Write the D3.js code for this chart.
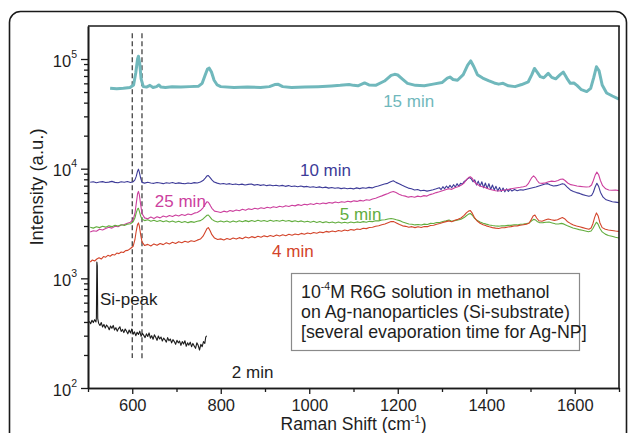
<!DOCTYPE html>
<html><head><meta charset="utf-8">
<script src="https://cdn.jsdelivr.net/npm/d3@7"></script>
<style>
body{margin:0;background:#fff}
svg{display:block}
text{font-family:"Liberation Sans",Arial,Helvetica,sans-serif;fill:#1e1e1e}
</style>
</head><body>
<svg id="c" width="629" height="433"></svg>
<script>
// ---- data: [Raman shift (cm-1), intensity (a.u.)] ----
const min15 = [[550,54100],[565,53500],[580,54000],[595,55000],[603,58000],[608,75000],[612,100000],[614,106000],[617,90000],[620,66000],[625,56000],[632,55500],[640,57500],[647,55000],[655,56000],[660,58000],[665,55500],[675,55000],[690,55800],[710,55500],[730,56000],[750,56500],[758,60000],[764,70000],[770,81000],[774,82500],[779,76000],[785,64000],[792,58000],[800,56000],[830,55000],[860,55500],[890,55000],[910,56000],[922,58500],[930,58800],[940,56000],[960,55000],[990,55500],[1020,56000],[1050,56800],[1070,57500],[1090,58500],[1100,57500],[1110,57000],[1125,60500],[1135,58000],[1150,57500],[1170,63000],[1185,71000],[1193,72500],[1200,71500],[1210,66000],[1222,60000],[1240,57500],[1260,57000],[1280,59000],[1300,61000],[1312,67000],[1318,68500],[1325,65000],[1335,64000],[1348,72000],[1358,88000],[1365,96000],[1372,85000],[1380,72000],[1392,67000],[1405,63500],[1418,60500],[1428,59000],[1438,60000],[1450,57000],[1465,56000],[1480,58500],[1495,62000],[1503,72000],[1509,82000],[1515,76000],[1522,69000],[1530,67500],[1540,74000],[1548,68000],[1557,66000],[1567,72000],[1574,76000],[1582,67000],[1590,60000],[1598,60500],[1605,57500],[1615,52500],[1627,50500],[1636,54000],[1643,68000],[1649,85000],[1655,78000],[1662,58000],[1672,49000],[1685,46000],[1700,43000]];

const min10 = [[505,7520],[512,7610],[519,7440],[526,7560],[533,7620],[540,7470],[547,7540],[554,7660],[561,7500],[568,7430],[575,7590],[582,7520],[589,7640],[596,7480],[602,7600],[606,7900],[609,8500],[612,9500],[614,9900],[616,9300],[619,8200],[622,7500],[628,7380],[635,7520],[642,7410],[649,7350],[656,7480],[663,7400],[670,7300],[677,7440],[684,7360],[691,7480],[698,7330],[705,7420],[712,7340],[719,7280],[726,7410],[733,7330],[740,7460],[747,7400],[754,7550],[760,7800],[765,8200],[769,8600],[772,8650],[776,8300],[780,7900],[785,7550],[792,7380],[799,7250],[806,7330],[813,7210],[820,7300],[827,7180],[834,7260],[841,7140],[848,7230],[855,7100],[862,7190],[869,7260],[876,7080],[883,7170],[890,7040],[897,7130],[904,7000],[911,7100],[918,6980],[925,7060],[932,6950],[939,7040],[946,6900],[953,7010],[960,6880],[967,6960],[974,6850],[981,6940],[988,6820],[995,6890],[1002,6760],[1009,6850],[1016,6740],[1023,6820],[1030,6700],[1037,6790],[1044,6650],[1051,6740],[1058,6620],[1065,6700],[1072,6580],[1079,6660],[1086,6560],[1093,6640],[1100,6540],[1107,6680],[1114,6580],[1121,6700],[1128,6620],[1135,6750],[1142,6680],[1149,6850],[1156,6950],[1163,7100],[1170,7250],[1177,7350],[1184,7600],[1190,7750],[1196,7500],[1203,7300],[1210,7050],[1217,6850],[1224,6650],[1231,6550],[1238,6400],[1245,6450],[1252,6280],[1259,6350],[1266,6240],[1273,6330],[1280,6420],[1287,6550],[1294,6700],[1298,6450],[1302,6850],[1306,6550],[1310,6950],[1314,6650],[1318,7050],[1322,6700],[1326,7150],[1330,6800],[1334,7300],[1338,6900],[1342,7350],[1346,7200],[1350,7650],[1354,7800],[1358,8100],[1362,8300],[1366,8100],[1370,7600],[1374,7900],[1378,7100],[1382,7700],[1386,6900],[1390,7600],[1394,6700],[1398,7400],[1402,6600],[1406,7300],[1410,6450],[1414,7100],[1418,6400],[1422,6900],[1426,6250],[1430,6750],[1434,6200],[1438,6650],[1442,6150],[1446,6550],[1450,6200],[1454,6500],[1458,6250],[1464,6450],[1470,6300],[1477,6420],[1484,6380],[1491,6500],[1498,6600],[1505,6700],[1512,6800],[1519,6950],[1526,7100],[1533,7250],[1539,7300],[1545,7100],[1552,6950],[1559,7000],[1566,7150],[1572,7300],[1577,7200],[1583,6800],[1590,6400],[1597,6200],[1604,6050],[1611,5950],[1618,5800],[1625,5700],[1632,5600],[1638,5700],[1642,6100],[1646,6800],[1650,7350],[1654,6900],[1658,6100],[1664,5500],[1671,5200],[1678,5100],[1685,5000],[1692,4950],[1700,4900]];

const min25 = [[505,2640],[512,2720],[519,2690],[526,2800],[533,2760],[540,2850],[547,2920],[554,2870],[561,2990],[568,2950],[575,3060],[582,3100],[589,3180],[596,3250],[602,3420],[606,3900],[609,4800],[612,5900],[614,6200],[616,5800],[619,4700],[622,3900],[628,3560],[635,3500],[642,3620],[649,3520],[656,3650],[663,3560],[670,3700],[677,3620],[684,3740],[691,3660],[698,3780],[705,3700],[712,3820],[719,3740],[726,3860],[733,3800],[740,3930],[747,3980],[754,4150],[760,4400],[765,4750],[769,5000],[772,4950],[776,4650],[780,4350],[786,4100],[793,4050],[800,3980],[807,4100],[814,4030],[821,4150],[828,4080],[835,4200],[842,4140],[849,4260],[856,4180],[863,4300],[870,4240],[877,4350],[884,4280],[891,4400],[898,4330],[905,4450],[912,4380],[919,4490],[926,4420],[933,4540],[940,4480],[947,4600],[954,4520],[961,4640],[968,4580],[975,4700],[982,4620],[989,4740],[996,4680],[1003,4790],[1010,4720],[1017,4830],[1024,4760],[1031,4870],[1038,4800],[1045,4920],[1052,4850],[1059,4960],[1066,4890],[1073,5000],[1080,4940],[1087,5040],[1094,4980],[1101,5090],[1108,5030],[1115,5140],[1122,5080],[1129,5200],[1136,5150],[1143,5300],[1150,5380],[1157,5520],[1164,5650],[1171,5800],[1178,5950],[1184,6100],[1190,6200],[1196,6050],[1203,5850],[1210,5700],[1217,5620],[1224,5500],[1231,5580],[1238,5480],[1245,5620],[1252,5540],[1259,5680],[1266,5620],[1273,5800],[1280,5900],[1287,6050],[1294,6150],[1301,6300],[1308,6420],[1315,6550],[1322,6480],[1329,6700],[1336,6850],[1343,7050],[1350,7400],[1355,7900],[1360,8300],[1364,8450],[1368,8200],[1373,7600],[1379,7200],[1386,6950],[1393,6800],[1400,6650],[1407,6500],[1414,6400],[1421,6300],[1428,6250],[1435,6320],[1442,6380],[1449,6450],[1456,6550],[1463,6620],[1470,6700],[1477,6760],[1484,6850],[1490,6950],[1495,7300],[1499,7800],[1503,8300],[1507,8600],[1511,8300],[1515,7800],[1520,7400],[1527,7350],[1534,7450],[1541,7600],[1548,7700],[1555,7650],[1562,7800],[1568,8000],[1573,8050],[1578,7800],[1584,7400],[1591,7150],[1598,7050],[1605,6950],[1612,6900],[1619,6850],[1626,6800],[1633,6850],[1638,7100],[1642,7800],[1646,8700],[1650,9300],[1654,8800],[1658,7800],[1663,7000],[1670,6550],[1677,6400],[1684,6350],[1692,6400],[1700,6300]];

const min5 = [[505,2920],[512,2870],[519,2950],[526,2900],[533,2980],[540,2930],[547,3010],[554,2960],[561,3050],[568,3000],[575,3080],[582,3040],[589,3120],[596,3150],[602,3280],[606,3550],[609,3950],[612,4300],[614,4350],[616,4100],[619,3700],[622,3450],[628,3360],[635,3420],[642,3320],[649,3390],[656,3300],[663,3370],[670,3280],[677,3350],[684,3260],[691,3330],[698,3250],[705,3320],[712,3230],[719,3300],[726,3220],[733,3290],[740,3240],[747,3310],[754,3360],[760,3480],[765,3640],[769,3760],[772,3780],[776,3620],[780,3450],[786,3330],[793,3270],[800,3340],[807,3260],[814,3330],[821,3250],[828,3340],[835,3270],[842,3350],[849,3280],[856,3360],[863,3290],[870,3370],[877,3300],[884,3380],[891,3310],[898,3370],[905,3300],[912,3380],[919,3310],[926,3370],[933,3320],[940,3390],[947,3320],[954,3370],[961,3290],[968,3350],[975,3280],[982,3340],[989,3260],[996,3320],[1003,3250],[1010,3310],[1017,3230],[1024,3300],[1031,3220],[1038,3280],[1045,3210],[1052,3270],[1059,3200],[1066,3260],[1073,3190],[1080,3250],[1087,3200],[1094,3260],[1101,3210],[1108,3270],[1115,3230],[1122,3290],[1129,3250],[1136,3310],[1143,3290],[1150,3350],[1157,3340],[1164,3400],[1171,3420],[1178,3470],[1185,3510],[1191,3480],[1197,3420],[1204,3360],[1211,3260],[1218,3200],[1225,3130],[1232,3110],[1239,3070],[1246,3100],[1253,3060],[1260,3120],[1267,3100],[1274,3170],[1281,3160],[1288,3230],[1295,3230],[1302,3300],[1309,3340],[1316,3400],[1322,3320],[1329,3360],[1336,3400],[1343,3460],[1350,3580],[1355,3720],[1360,3850],[1364,3900],[1368,3780],[1373,3550],[1379,3380],[1386,3260],[1393,3180],[1400,3120],[1407,3070],[1414,3030],[1421,3000],[1428,2990],[1435,3020],[1442,3010],[1449,3050],[1456,3040],[1463,3080],[1470,3070],[1477,3110],[1484,3120],[1491,3160],[1497,3200],[1502,3330],[1507,3450],[1511,3420],[1515,3300],[1521,3210],[1528,3220],[1535,3250],[1542,3260],[1549,3200],[1556,3140],[1563,3130],[1570,3170],[1576,3120],[1582,3040],[1589,2960],[1596,2880],[1603,2830],[1610,2780],[1617,2740],[1624,2700],[1631,2660],[1637,2700],[1641,2850],[1645,3050],[1649,3250],[1653,3100],[1657,2850],[1662,2650],[1669,2530],[1676,2460],[1684,2420],[1692,2370],[1700,2330]];

const min4 = [[505,1410],[510,1470],[515,1440],[520,1500],[525,1540],[530,1500],[535,1580],[540,1560],[545,1620],[550,1590],[555,1650],[560,1630],[565,1700],[570,1680],[575,1740],[580,1720],[585,1790],[590,1800],[596,1870],[602,1960],[606,2250],[609,2700],[612,3100],[614,3200],[616,3000],[619,2500],[622,2150],[628,1990],[635,2040],[642,1970],[649,2060],[656,2000],[663,2080],[670,2030],[677,2110],[684,2060],[691,2130],[698,2080],[705,2160],[712,2110],[719,2180],[726,2130],[733,2200],[740,2170],[747,2230],[754,2280],[760,2420],[765,2650],[769,2850],[772,2900],[776,2720],[780,2500],[786,2330],[793,2260],[800,2290],[807,2240],[814,2310],[821,2260],[828,2330],[835,2280],[842,2350],[849,2300],[856,2380],[863,2330],[870,2400],[877,2350],[884,2420],[891,2370],[898,2440],[905,2390],[912,2460],[919,2410],[926,2480],[933,2430],[940,2500],[947,2450],[954,2520],[961,2470],[968,2540],[975,2500],[982,2570],[989,2520],[996,2590],[1003,2550],[1010,2620],[1017,2580],[1024,2650],[1031,2610],[1038,2680],[1045,2640],[1052,2700],[1059,2660],[1066,2730],[1073,2690],[1080,2760],[1087,2720],[1094,2790],[1101,2750],[1108,2820],[1115,2790],[1122,2860],[1129,2840],[1136,2910],[1143,2920],[1150,2980],[1157,3020],[1164,3080],[1171,3130],[1178,3220],[1185,3300],[1191,3290],[1197,3200],[1204,3100],[1211,3010],[1218,2980],[1225,2920],[1232,2960],[1239,2900],[1246,2950],[1253,2910],[1260,2970],[1267,2960],[1274,3030],[1281,3050],[1288,3110],[1295,3160],[1302,3230],[1309,3290],[1316,3340],[1322,3280],[1329,3380],[1336,3450],[1343,3550],[1350,3750],[1355,3950],[1360,4100],[1364,4150],[1368,3950],[1373,3600],[1379,3350],[1386,3180],[1393,3080],[1400,3010],[1407,2950],[1414,2900],[1421,2870],[1428,2850],[1435,2890],[1442,2900],[1449,2940],[1456,2960],[1463,3000],[1470,3010],[1477,3050],[1484,3080],[1491,3120],[1497,3200],[1502,3450],[1506,3700],[1510,3780],[1514,3550],[1519,3350],[1526,3320],[1533,3400],[1540,3480],[1547,3420],[1554,3380],[1561,3420],[1567,3520],[1572,3580],[1577,3500],[1583,3300],[1590,3170],[1597,3070],[1604,3000],[1611,2950],[1618,2900],[1625,2850],[1632,2800],[1637,2880],[1641,3150],[1645,3600],[1649,3950],[1653,3700],[1657,3200],[1662,2900],[1669,2800],[1676,2760],[1684,2730],[1692,2700],[1700,2680]];

const min2 = [[503,405],[506,385],[509,415],[512,395],[515,420],[518,400],[519,440],[520,1410],[521,1300],[522,430],[524,390],[527,372],[530,395],[533,360],[536,380],[539,352],[542,375],[545,362],[548,340],[551,368],[554,350],[557,372],[560,338],[563,355],[566,330],[569,348],[572,362],[575,328],[578,342],[581,320],[584,345],[587,330],[590,312],[593,338],[596,318],[599,345],[602,310],[605,325],[608,300],[611,322],[614,308],[617,330],[620,296],[623,315],[626,302],[629,288],[632,312],[635,295],[638,318],[641,285],[644,300],[647,278],[650,305],[653,290],[656,272],[659,298],[662,280],[665,292],[668,268],[671,285],[674,275],[677,262],[680,288],[683,270],[686,280],[689,258],[692,276],[695,265],[698,250],[701,272],[704,258],[707,268],[710,245],[713,265],[716,252],[719,270],[722,240],[725,258],[728,246],[731,262],[734,238],[737,255],[740,242],[743,230],[746,258],[749,245],[752,222],[755,250],[758,238],[761,265],[764,255],[766,290],[768,300]];

const seriesLabels = ["15 min","10 min","25 min","5 min","4 min","2 min"];
const seriesColors = ["#70b8bc","#3d3b98","#cc409e","#62ad3e","#d3442a","#1c1c1c"];
const seriesWidths = [3,1.1,1.1,1.1,1.1,1.1];
const seriesData = [min15,min10,min25,min5,min4,min2];
// label anchors [shift, intensity] (text baseline start)
const labelPos = [[1167,36500],[979,8570],[651,4480],[1069,3400],[916,1567],[825,124]];
const siPeakLabel = ["Si-peak", 527, 572];

const majorY = [100,1000,10000,100000];
const minorY = [200,300,400,500,600,700,800,900,2000,3000,4000,5000,6000,7000,8000,9000,20000,30000,40000,50000,60000,70000,80000,90000];
const majorX = [600,800,1000,1200,1400,1600];
const minorX = [500,700,900,1100,1300,1500,1700];
const markerShifts = [600,622];
const markerTop = [172000,172000];
const markerBottom = [188,181];

// ---- drawing ----
const svg = d3.select("#c");
const L=88, R=619, T=26, B=388;
const x = d3.scaleLinear().domain([500,1700]).range([L,R]);
const y = d3.scaleLog().domain([100,200000]).range([B,T]);

// outer frame
svg.append("rect").attr("x",9.5).attr("y",11.5).attr("width",617).attr("height",460)
  .attr("rx",11).attr("fill","none").attr("stroke","#1a1a1a").attr("stroke-width",1.6);

svg.append("defs").append("clipPath").attr("id","pc").append("rect")
  .attr("x",L).attr("y",T).attr("width",R-L).attr("height",B-T);

// dashed markers
svg.append("g").selectAll("line").data(markerShifts).join("line")
  .attr("x1",d=>x(d)).attr("x2",d=>x(d))
  .attr("y1",(d,i)=>y(markerTop[i])).attr("y2",(d,i)=>y(markerBottom[i]))
  .attr("stroke","#333").attr("stroke-width",1.2).attr("stroke-dasharray","5,3");

// spectra
const line = d3.line().x(d=>x(d[0])).y(d=>y(d[1]));
const g = svg.append("g").attr("clip-path","url(#pc)");
seriesData.forEach((s,i)=>{
  g.append("path").attr("d",line(s)).attr("fill","none")
   .attr("stroke",seriesColors[i]).attr("stroke-width",seriesWidths[i])
   .attr("stroke-linejoin","round");
});

// series labels
svg.append("g").selectAll("text").data(seriesLabels).join("text")
  .attr("x",(d,i)=>x(labelPos[i][0])).attr("y",(d,i)=>y(labelPos[i][1]))
  .attr("font-size",17).style("fill",(d,i)=>i===5?"#1e1e1e":seriesColors[i])
  .text(d=>d);
svg.append("text").attr("x",x(siPeakLabel[1])).attr("y",y(siPeakLabel[2])).attr("font-size",17).text(siPeakLabel[0]);

// axes
const styleAxis = sel => { sel.select(".domain").attr("stroke","#1a1a1a").attr("stroke-width",1.6);
  sel.selectAll(".tick line").attr("stroke","#1a1a1a").attr("stroke-width",1.3); };

const yMinor = svg.append("g").attr("transform",`translate(${L},0)`)
  .call(d3.axisLeft(y).tickValues(minorY).tickSize(4).tickSizeOuter(0).tickFormat(""));
styleAxis(yMinor);
const yMajor = svg.append("g").attr("transform",`translate(${L},0)`)
  .call(d3.axisLeft(y).tickValues(majorY).tickSize(7).tickSizeOuter(0).tickFormat(""));
styleAxis(yMajor);
yMajor.selectAll(".tick").each(function(d){
  const t = d3.select(this).append("text").attr("x",-11).attr("y",7)
    .attr("text-anchor","end").attr("font-size",16.5).style("fill","#1e1e1e");
  t.append("tspan").text("10");
  t.append("tspan").attr("dy",-9).attr("font-size",10.5).text(String(Math.round(Math.log10(d))));
});

const xMinor = svg.append("g").attr("transform",`translate(0,${B})`)
  .call(d3.axisBottom(x).tickValues(minorX).tickSize(4).tickSizeOuter(0).tickFormat(""));
styleAxis(xMinor);
const xMajor = svg.append("g").attr("transform",`translate(0,${B})`)
  .call(d3.axisBottom(x).tickValues(majorX).tickSize(6).tickSizeOuter(0).tickFormat(d=>d));
styleAxis(xMajor);
xMajor.selectAll(".tick text").attr("y",11).attr("dy","0.71em")
  .attr("font-size",16.5).style("font-family",'"Liberation Sans",Arial,sans-serif').style("fill","#1e1e1e");

// top and right border
svg.append("line").attr("x1",L).attr("x2",R+0.8).attr("y1",T).attr("y2",T).attr("stroke","#1a1a1a").attr("stroke-width",1.6);
svg.append("line").attr("x1",R).attr("x2",R).attr("y1",T).attr("y2",B).attr("stroke","#1a1a1a").attr("stroke-width",1.6);

// axis titles
const xt = svg.append("text").attr("x",(L+R)/2).attr("y",430).attr("text-anchor","middle").attr("font-size",17.5);
xt.append("tspan").text("Raman Shift (cm");
xt.append("tspan").attr("dy",-7).attr("font-size",11).text("-1");
xt.append("tspan").attr("dy",7).text(")");
svg.append("text").attr("transform","translate(43,187) rotate(-90)").attr("text-anchor","middle")
  .attr("font-size",18.5).text("Intensity (a.u.)");

// note box
svg.append("rect").attr("x",291.5).attr("y",273.5).attr("width",288).attr("height",77)
  .attr("fill","#fff").attr("stroke","#8a8a8a").attr("stroke-width",1.2);
const nt = svg.append("g").attr("font-size",17.8);
const l1 = nt.append("text").attr("x",301).attr("y",298);
l1.append("tspan").text("10");
l1.append("tspan").attr("dy",-8).attr("font-size",10.5).text("-4");
l1.append("tspan").attr("dy",8).text("M R6G solution in methanol");
nt.append("text").attr("x",301).attr("y",318).text("on Ag-nanoparticles (Si-substrate)");
nt.append("text").attr("x",301).attr("y",338).text("[several evaporation time for Ag-NP]");
</script>
</body></html>
